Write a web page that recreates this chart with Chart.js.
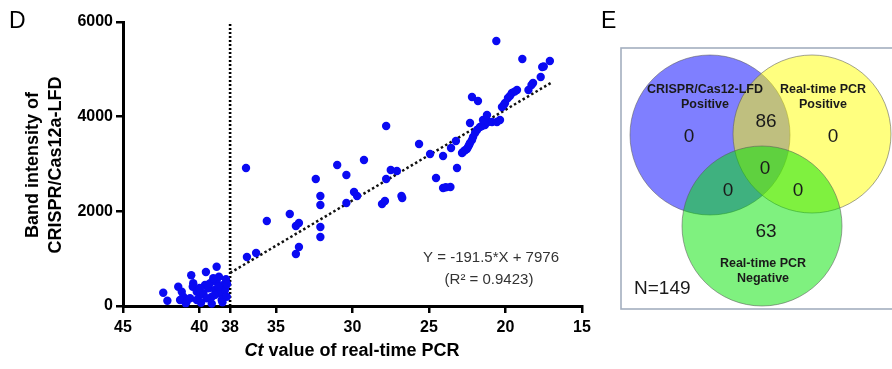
<!DOCTYPE html>
<html><head><meta charset="utf-8">
<script src="https://cdn.jsdelivr.net/npm/chart.js@4.4.1/dist/chart.umd.min.js"></script>
<style>
html,body{margin:0;padding:0;background:#fff;width:892px;height:369px;overflow:hidden;}
#c1{position:absolute;left:0;top:0;}
#c2{position:absolute;left:600px;top:0;}
</style></head><body>
<canvas id="c1" width="600" height="369"></canvas>
<canvas id="c2" width="292" height="369"></canvas>
<script>
// ---------- DATA (panel D) ----------
const ctValues = [
 42.37,42.10,41.39,41.16,41.06,41.27,40.84,40.62,40.54,40.41,40.44,40.18,39.97,39.75,39.58,39.64,39.42,39.31,39.20,38.99,
 38.88,38.88,38.73,38.66,38.55,38.44,38.27,38.33,38.22,38.77,39.10,39.53,40.18,40.9,39.9,39.2,38.5,40.0,39.0,38.2,
 36.96,36.9,36.3,35.6,34.1,33.7,33.5,33.7,33.5,32.4,32.1,32.1,32.1,32.1,31.0,30.4,30.4,29.9,29.7,29.25,
 28.07,27.88,27.8,27.8,27.5,27.1,26.8,26.75,25.65,24.93,24.54,24.08,24.08,23.9,23.6,23.56,23.24,23.17,
 22.84,22.78,22.65,22.52,22.45,22.38,22.32,22.19,22.12,21.99,21.86,21.67,21.54,21.34,21.14,20.88,20.56,20.36,
 22.32,21.47,21.21,22.19,21.8,20.23,20.03,19.84,19.58,19.25,20.6,18.9,17.1,17.6,17.5,17.7,18.2,18.3,18.5,19.4,19.7,20.1
];
const bandIntensity = [
 281,112,408,302,196,127,91,163,649,480,408,302,232,268,718,444,374,480,196,338,
 830,513,619,268,127,444,564,338,196,408,585,163,127,60,70,50,80,380,230,460,
 2916,1035,1120,1796,1944,1690,1754,1099,1247,2683,2324,2134,1669,1458,2979,2768,2176,2409,2324,3085,
 2155,2218,3803,2683,2873,2852,2324,2282,3423,3211,2704,3169,2493,2510,2514,3338,3486,2916,
 3233,3254,3290,3317,3359,3400,3444,3507,3571,3655,3719,3782,3803,3824,3888,3888,3888,3930,
 3866,3930,4035,4416,4331,4205,4289,4395,4500,4564,5599,5219,5176,5050,5060,4838,4712,4670,4564,4530,4440,4250
];
const xTickValues = [45,40,38,35,30,25,20,15];
const yTickValues = [0,2000,4000,6000];
const cutoffCt = [38,38];
const cutoffIntensity = [0,6000];
const fitCt = [38,17];
const fitIntensity = [699,4720];
const equationLines = ['Y = -191.5*X + 7976','(R\u00B2 = 0.9423)'];
const yTitleLines = ['Band intensity of','CRISPR/Cas12a-LFD'];
const xTitleParts = ['Ct',' value of real-time PCR'];

// ---------- DATA (panel E) ----------
const vennSetNames = [['CRISPR/Cas12-LFD','Positive'],['Real-time PCR','Positive'],['Real-time PCR','Negative']];
const vennRegionCounts = [0,86,0,0,0,0,63]; // LFD only, LFD∩PCR+, PCR+ only, all three, LFD∩Neg, PCR+∩Neg, Neg only
const totalN = 149;

// ---------- LAYOUT ----------
const FONT = '"Liberation Sans", Arial, sans-serif';
const pts = ctValues.map((x,i)=>({x:x,y:bandIntensity[i]}));
const zip = (a,b)=>a.map((x,i)=>({x:x,y:b[i]}));

const panelDText = {
  id:'panelDText',
  afterDraw(chart){
    const c = chart.ctx;
    c.save();
    c.fillStyle='#000';
    c.font = '23px '+FONT; c.textAlign='left'; c.textBaseline='alphabetic';
    c.fillText('D', 9, 28);
    c.font = 'bold 18px '+FONT; c.textAlign='center';
    const yc = 165;
    [[38,yTitleLines[0]],[61,yTitleLines[1]]].forEach(([bx,t])=>{
      c.save(); c.translate(bx,yc); c.rotate(-Math.PI/2); c.fillText(t,0,0); c.restore();
    });
    c.textAlign='left';
    c.font = 'italic bold 18px '+FONT;
    const w1 = c.measureText(xTitleParts[0]).width;
    c.font = 'bold 18px '+FONT;
    const w2 = c.measureText(xTitleParts[1]).width;
    const x0 = 352 - (w1+w2)/2;
    c.font = 'italic bold 18px '+FONT; c.fillText(xTitleParts[0], x0, 356);
    c.font = 'bold 18px '+FONT; c.fillText(xTitleParts[1], x0+w1, 356);
    c.fillStyle='#333'; c.font='15px '+FONT; c.textAlign='center';
    c.fillText(equationLines[0], 491, 262);
    c.fillText(equationLines[1], 489, 284);
    c.restore();
  }
};

new Chart(document.getElementById('c1'), {
  type:'scatter',
  data:{datasets:[
    {type:'scatter', data:pts, backgroundColor:'#0a0af2', borderWidth:0, pointRadius:4.2, clip:false},
    {type:'line', data:zip(fitCt,fitIntensity), borderColor:'#111', borderWidth:2.5, borderDash:[2.5,2.5], pointRadius:0, fill:false},
    {type:'line', data:zip(cutoffCt,cutoffIntensity), borderColor:'#000', borderWidth:2.6, borderDash:[2,2], pointRadius:0, fill:false}
  ]},
  options:{
    responsive:false, animation:false, devicePixelRatio:1,
    layout:{padding:{top:22,right:18,left:0,bottom:0}},
    plugins:{legend:{display:false},tooltip:{enabled:false}},
    scales:{
      x:{type:'linear', reverse:true, min:15, max:45,
        afterBuildTicks(a){a.ticks = xTickValues.map(v=>({value:v}));},
        afterFit(s){s.height=63;},
        ticks:{autoSkip:false, maxRotation:0, color:'#000', padding:5, font:{family:FONT, size:16, weight:'bold'}, callback:v=>String(v)},
        grid:{display:true, drawOnChartArea:false, drawTicks:true, tickLength:7, color:'#000', lineWidth:2.5},
        border:{display:true, color:'#000', width:3}
      },
      y:{type:'linear', min:0, max:6000,
        afterBuildTicks(a){a.ticks = yTickValues.map(v=>({value:v}));},
        afterFit(s){s.width=123;},
        ticks:{color:'#000', padding:3, font:{family:FONT, size:16, weight:'bold'}, callback:v=>String(v)},
        grid:{display:true, drawOnChartArea:false, drawTicks:true, tickLength:7, color:'#000', lineWidth:2.5},
        border:{display:true, color:'#000', width:3}
      }
    }
  },
  plugins:[panelDText]
});

// ---------- PANEL E ----------
const circleGeom = [ {x:110,y:135,r:80}, {x:212,y:134,r:79}, {x:162,y:226,r:80} ];
const circleFill = ['rgba(0,0,255,0.5)','rgba(255,255,0,0.5)','rgba(0,228,0,0.5)'];
const regionPos = [[89,137],[166,122],[233,137],[165,169],[128,191],[198,191],[166,232]];
const namePos = [[105,90],[223,90],[163,264]];

const panelEText = {
  id:'panelEText',
  beforeDatasetsDraw(chart){
    const c = chart.ctx;
    c.save();
    c.strokeStyle='#a3aebf'; c.lineWidth=1.6;
    c.strokeRect(21,48,300,261);
    c.fillStyle='#000'; c.font='23px '+FONT; c.textAlign='left'; c.textBaseline='alphabetic';
    c.fillText('E', 1, 28);
    c.restore();
  },
  afterDatasetsDraw(chart){
    const c = chart.ctx;
    c.save();
    c.fillStyle='#1a1a1a'; c.textAlign='center'; c.textBaseline='middle';
    c.font='bold 12.5px '+FONT;
    vennSetNames.forEach((lines,i)=>{
      lines.forEach((t,j)=>c.fillText(t, namePos[i][0], namePos[i][1]+j*15));
    });
    c.font='19px '+FONT;
    vennRegionCounts.forEach((v,i)=>c.fillText(String(v), regionPos[i][0], regionPos[i][1]));
    c.textAlign='left';
    c.fillText('N='+totalN, 34, 289);
    c.restore();
  }
};

const vennOrder = [2,1,0];
new Chart(document.getElementById('c2'), {
  type:'bubble',
  data:{datasets: vennOrder.map(i=>({
    data:[circleGeom[i]], backgroundColor:circleFill[i], borderColor:'rgba(90,90,90,0.55)', borderWidth:1, clip:false
  }))},
  options:{
    responsive:false, animation:false, devicePixelRatio:1,
    layout:{padding:0, autoPadding:false},
    plugins:{legend:{display:false},tooltip:{enabled:false}},
    scales:{
      x:{type:'linear', min:0, max:292, display:false},
      y:{type:'linear', min:0, max:369, reverse:true, display:false}
    }
  },
  plugins:[panelEText]
});
</script>
</body></html>
